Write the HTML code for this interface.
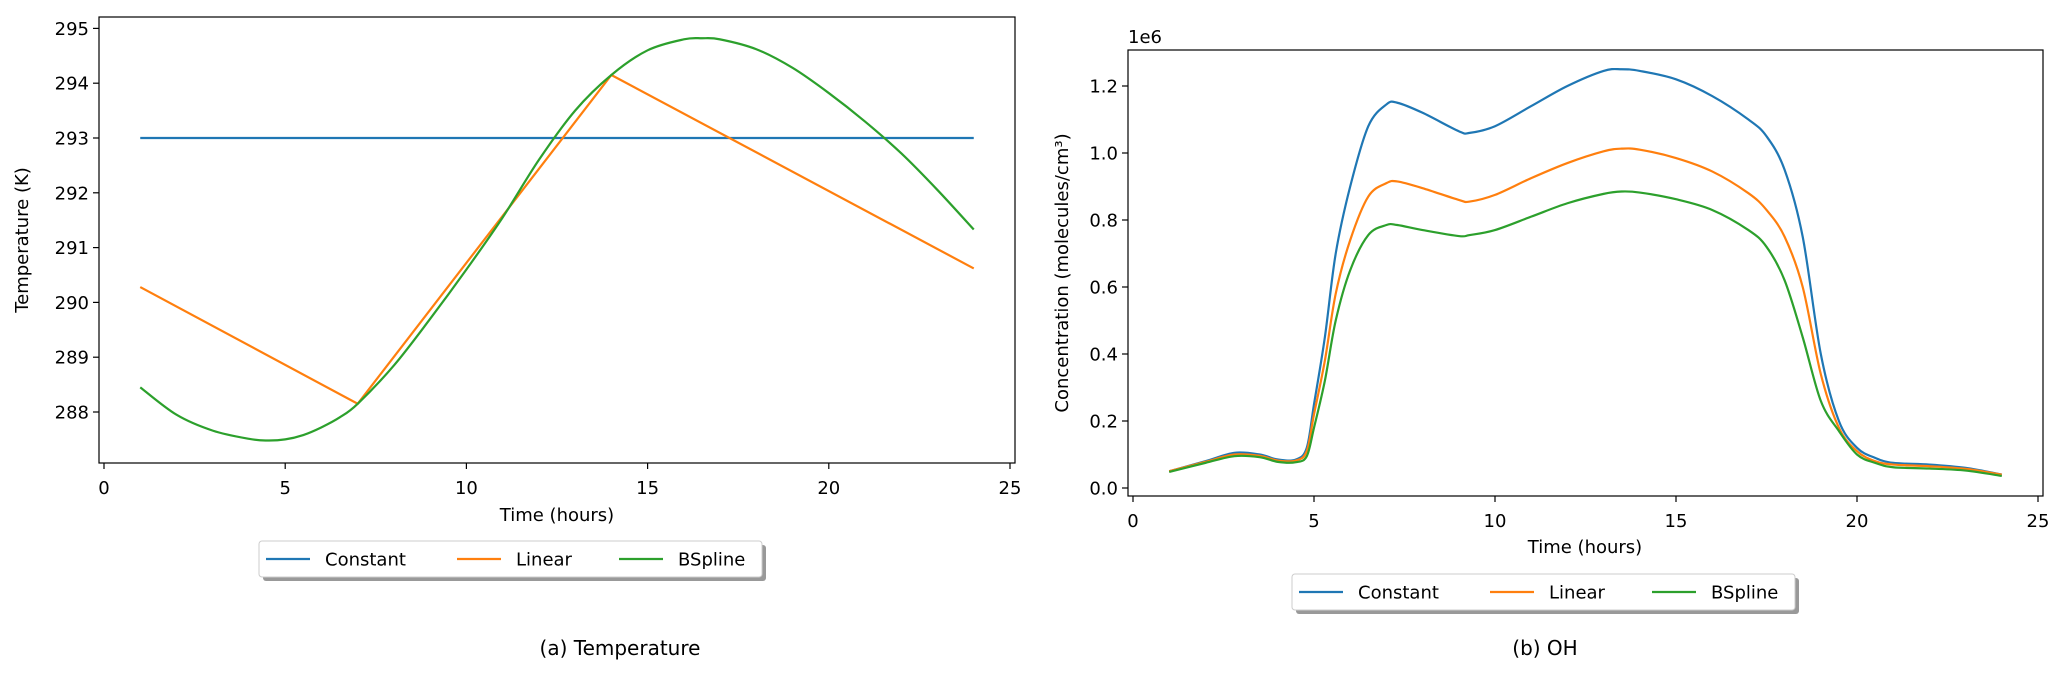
<!DOCTYPE html>
<html><head><meta charset="utf-8"><style>
html,body{margin:0;padding:0;background:#fff;}
svg{display:block;font-family:"DejaVu Sans","Liberation Sans",sans-serif;}
</style></head><body>
<svg id="fig" width="2067" height="679" viewBox="0 0 2067 679" xmlns="http://www.w3.org/2000/svg"></svg>
<script>
// ---- data ----
const tempLinearT = [1, 7, 14, 24];
const tempLinearV = [290.28, 288.15, 294.15, 290.62];
const tempConstT = [1, 24];
const tempConstV = [293, 293];
const tempSplineT = [1,2,3,4,4.5,5,5.5,6,6.5,7,8,9,10,11,12,13,14,15,16,16.5,17,18,19,20,21,22,23,24];
const tempSplineV = [288.45,287.95,287.66,287.51,287.48,287.5,287.58,287.72,287.9,288.15,288.85,289.7,290.6,291.55,292.6,293.5,294.15,294.6,294.8,294.82,294.8,294.62,294.28,293.82,293.3,292.72,292.05,291.33];
const tempYTicks = [288,289,290,291,292,293,294,295];
const xTicks = [0,5,10,15,20,25];

const ohT = [1,2,2.8,3.5,4,4.5,4.8,5,5.3,5.6,6,6.5,7,7.3,8,9,9.3,10,11,12,13,13.5,14,15,16,17,17.5,18,18.5,19,19.5,20,20.5,21,22,23,24];
const ohConst = [0.05,0.08,0.105,0.1,0.085,0.085,0.12,0.25,0.45,0.7,0.9,1.08,1.145,1.15,1.12,1.065,1.06,1.08,1.14,1.2,1.245,1.25,1.245,1.22,1.17,1.10,1.05,0.95,0.75,0.40,0.20,0.12,0.09,0.075,0.07,0.06,0.04];
const ohLinear = [0.05,0.078,0.1,0.096,0.082,0.082,0.11,0.22,0.38,0.58,0.74,0.87,0.91,0.915,0.895,0.86,0.855,0.875,0.925,0.97,1.005,1.013,1.01,0.985,0.945,0.88,0.83,0.75,0.6,0.34,0.18,0.11,0.08,0.07,0.065,0.057,0.04];
const ohSpline = [0.048,0.075,0.095,0.092,0.078,0.077,0.095,0.18,0.32,0.5,0.65,0.755,0.785,0.785,0.77,0.752,0.755,0.77,0.81,0.85,0.878,0.885,0.882,0.862,0.83,0.77,0.72,0.62,0.45,0.26,0.17,0.1,0.075,0.062,0.058,0.052,0.036];
const ohYTicks = [0.0,0.2,0.4,0.6,0.8,1.0,1.2];
const seriesNames = ["Constant","Linear","BSpline"];
const colors = ["#1f77b4","#ff7f0e","#2ca02c"];

const NS = "http://www.w3.org/2000/svg";
const svg = document.getElementById('fig');
function mk(tag, attrs, parent){const e=document.createElementNS(NS,tag);for(const k in attrs)e.setAttribute(k,attrs[k]);(parent||svg).appendChild(e);return e;}
function txt(s, attrs, parent){const e=mk('text',attrs,parent);e.textContent=s;return e;}

const A = {x0:99,x1:1015,y0:17,y1:463, sx:t=>104+t*36.24, sy:v=>138-(v-293)*54.8};
const B = {x0:1128,x1:2043,y0:50,y1:496, sx:t=>1133+t*36.2, sy:v=>488-v*335};

function linePath(xs, ys, ax){return xs.map((t,i)=>(i?'L':'M')+ax.sx(t).toFixed(2)+','+ax.sy(ys[i]).toFixed(2)).join(' ');}
function smoothPath(xs, ys, ax){
  const p = xs.map((t,i)=>[ax.sx(t),ax.sy(ys[i])]);
  let d='M'+p[0][0].toFixed(2)+','+p[0][1].toFixed(2);
  for(let i=0;i<p.length-1;i++){
    const p0=p[i-1]||p[i], p1=p[i], p2=p[i+1], p3=p[i+2]||p2;
    const c1=[p1[0]+(p2[0]-p0[0])/6, p1[1]+(p2[1]-p0[1])/6];
    const c2=[p2[0]-(p3[0]-p1[0])/6, p2[1]-(p3[1]-p1[1])/6];
    d+=' C'+c1.map(v=>v.toFixed(2)).join(',')+' '+c2.map(v=>v.toFixed(2)).join(',')+' '+p2[0].toFixed(2)+','+p2[1].toFixed(2);
  }
  return d;
}

const FS = 18;
function drawAxes(ax, g, yTicks, fmt){
  xTicks.forEach(t=>{
    const x=ax.sx(t);
    const tk=mk('line',{x1:x,y1:ax.y1,x2:x,y2:ax.y1+6,stroke:'#000','stroke-width':1.2},g);
    
    
    const l=txt(String(t),{x:x,y:ax.y1+31,'font-size':FS,'text-anchor':'middle',fill:'#000'},g);
    
    
  });
  yTicks.forEach(v=>{
    const y=ax.sy(v);
    const tk=mk('line',{x1:ax.x0-6,y1:y,x2:ax.x0,y2:y,stroke:'#000','stroke-width':1.2},g);
    
    
    const l=txt(fmt(v),{x:ax.x0-10,y:y+6.5,'font-size':FS,'text-anchor':'end',fill:'#000'},g);
    
    
  });
}
function frame(ax,g){
  const r=mk('rect',{x:ax.x0,y:ax.y0,width:ax.x1-ax.x0,height:ax.y1-ax.y0,fill:'none',stroke:'#000','stroke-width':1.2},g);
  
  
}
function legend(g, x, y){
  const sh=mk('rect',{x:x+4,y:y+4,width:503,height:36,rx:3,fill:'#999'},g);
  
  
  const bx=mk('rect',{x:x,y:y,width:503,height:36,rx:3,fill:'#fff',stroke:'#ccc','stroke-width':1},g);
  
  
  const hx=[7,198,360], tx=[66,257,419];
  seriesNames.forEach((n,i)=>{
    const eg=mk('g',{},g);
    
    
    mk('line',{x1:x+hx[i],y1:y+18,x2:x+hx[i]+44,y2:y+18,stroke:colors[i],'stroke-width':2.2},eg);
    txt(n,{x:x+tx[i],y:y+24.5,'font-size':FS,fill:'#000'},eg);
  });
}

// ---- panel A ----
const gA=mk('g',{});


drawAxes(A,gA,tempYTicks,v=>String(v));
const sA=[linePath(tempConstT,tempConstV,A),linePath(tempLinearT,tempLinearV,A),smoothPath(tempSplineT,tempSplineV,A)];
sA.forEach((d,i)=>{const p=mk('path',{d:d,fill:'none',stroke:colors[i],'stroke-width':2.2,'stroke-linejoin':'round'},gA);
  
  });
frame(A,gA);
let e;
e=txt('Time (hours)',{x:557,y:521,'font-size':FS,'text-anchor':'middle'},gA);


e=txt('Temperature (K)',{x:0,y:0,'font-size':FS,'text-anchor':'middle',transform:'translate(28,240) rotate(-90)'},gA);


legend(gA,259,541);
e=txt('(a) Temperature',{x:620,y:655,'font-size':20,'text-anchor':'middle'},gA);



// ---- panel B ----
const gB=mk('g',{});


drawAxes(B,gB,ohYTicks,v=>v.toFixed(1));
[ohConst,ohLinear,ohSpline].forEach((vals,i)=>{const p=mk('path',{d:smoothPath(ohT,vals,B),fill:'none',stroke:colors[i],'stroke-width':2.2,'stroke-linejoin':'round'},gB);
  
  });
frame(B,gB);
e=txt('1e6',{x:1128,y:43,'font-size':FS},gB);


e=txt('Time (hours)',{x:1585,y:553,'font-size':FS,'text-anchor':'middle'},gB);


e=txt('Concentration (molecules/cm³)',{x:0,y:0,'font-size':FS,'text-anchor':'middle',transform:'translate(1068,273) rotate(-90)'},gB);


legend(gB,1292,574);
e=txt('(b) OH',{x:1545,y:655,'font-size':20,'text-anchor':'middle'},gB);


</script>
</body></html>
